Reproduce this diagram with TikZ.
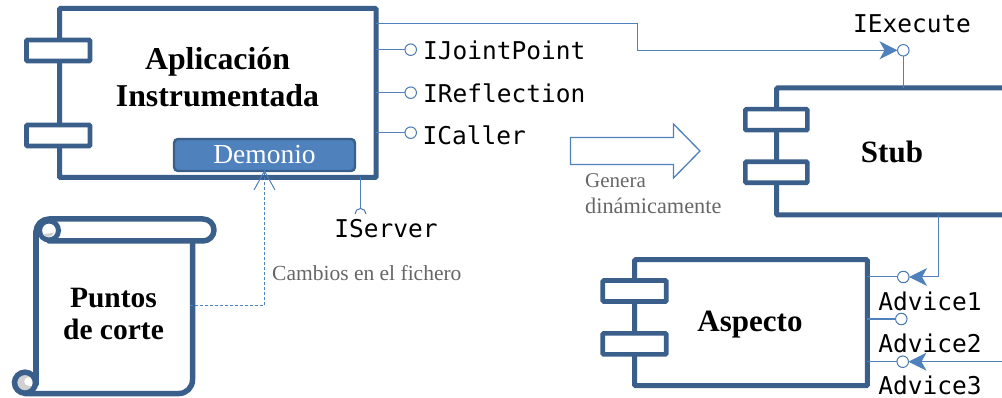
\documentclass[tikz,border=0pt]{standalone}
\usepackage{fontspec}
\setmainfont{Liberation Serif}
\newfontfamily\codefont{DejaVu Sans Mono}
\usetikzlibrary{arrows.meta,calc}
\definecolor{frameblue}{HTML}{3A5F8B}
\definecolor{lineblue}{HTML}{4F81BD}
\definecolor{notegray}{HTML}{666666}
\newcommand{\fsz}[1]{\fontsize{#1}{#1}\selectfont}
\tikzset{
  x=1pt,y=-1pt,
  compbox/.style={draw=frameblue,line width=5pt,fill=white,rounded corners=1pt,inner sep=0,outer sep=0},
  tabbox/.style={draw=frameblue,line width=4.6pt,fill=white,rounded corners=1pt,inner sep=0,outer sep=0,minimum height=21pt,minimum width=63.5pt},
  title/.style={font=\fsz{31}\bfseries,align=center,text=black,inner sep=0},
  code/.style={font=\codefont\fsz{24.5},text=black,inner sep=0},
  note/.style={font=\fsz{21.5},text=notegray,inner sep=0,align=left},
  lolli/.style={circle,draw=lineblue!70!frameblue,fill=white,line width=1pt,minimum size=11.5pt,inner sep=0,outer sep=0},
  conn/.style={draw=lineblue,line width=1pt},
  solidtip/.style={-{Stealth[length=18pt,width=18pt,inset=5pt,fill=lineblue]}},
  scrollline/.style={draw=frameblue,line width=5.5pt,line cap=round,line join=round},
}
\begin{document}
\begin{tikzpicture}
\clip (0,0) rectangle (1002,398);
% Aplicacion instrumentada
\node[compbox,minimum width=316.5pt,minimum height=169pt] (app) at (217.75,93) {};
\node[tabbox] (apptaba) at (58.25,50.5) {};
\node[tabbox] (apptabb) at (58.25,135.5) {};
\node[title,font=\fsz{31.8}\bfseries] (apptext) at (217.5,77) {Aplicación\\[5pt]Instrumentada};
\node[draw=frameblue,line width=2.4pt,fill=lineblue,rounded corners=4pt,minimum width=181pt,minimum height=32pt,inner sep=0,outer sep=0,text=white,font=\fsz{27.5}] (demonio) at (264.5,155) {Demonio};
% Interfaces of app
\node[lolli] (ijp) at (410.7,49.7) {};
\node[lolli] (irf) at (410.7,92.7) {};
\node[lolli] (icl) at (410.7,132.7) {};
\draw[conn] (app.east |- ijp) -- (ijp);
\draw[conn] (app.east |- irf) -- (irf);
\draw[conn] (app.east |- icl) -- (icl);
\node[code,anchor=west] (ijpt) at (423,50) {IJointPoint};
\node[code,anchor=west] (irft) at (423,93) {IReflection};
\node[code,anchor=west] (iclt) at (422.5,135) {ICaller};
% IServer
\coordinate (srv) at (360.5,214);
\draw[conn] (app.south -| srv) -- ($(srv)+(0,-6)$);
\draw[draw=lineblue!70!frameblue,line width=1pt] ($(srv)+(-5.5,0)$) arc[start angle=180,end angle=0,radius=5.5pt];
\node[code] (isrv) at (386,229) {IServer};
% Stub
\node[compbox,minimum width=235.3pt,minimum height=127pt] (stub) at (894.35,151.5) {};
\node[tabbox,minimum width=62pt] (stubtaba) at (776.3,119.7) {};
\node[tabbox,minimum width=62pt] (stubtabb) at (776.3,172.3) {};
\node[title] (stubtext) at (892,152) {Stub};
\node[lolli] (iex) at (903.3,50.3) {};
\draw[conn] (iex) -- (iex |- stub.north);
\node[code] (iext) at (912,24) {IExecute};
\coordinate (appout) at (376,23.5);
\draw[conn,solidtip] (appout) -- (637,23.5) -- (637,50.3) -- (iex);
% Hollow arrow
\node[draw=none,inner sep=0] (hollow) at (635,151) {};
\draw[draw=lineblue,line width=1.3pt,fill=white,line join=miter]
  ($(hollow)+(-64.5,-13.5)$) -- ($(hollow)+(38.5,-13.5)$) -- ($(hollow)+(38.5,-27)$) -- ($(hollow)+(65,0)$) -- ($(hollow)+(38.5,27)$) -- ($(hollow)+(38.5,13.5)$) -- ($(hollow)+(-64.5,13.5)$) -- cycle;
\node[note,anchor=west,font=\fsz{21}] (genera) at (585,181) {Genera};
\node[note,anchor=west,font=\fsz{22.3}] (dina) at (585,206) {dinámicamente};
% Aspecto
\node[compbox,minimum width=232.6pt,minimum height=126pt] (asp) at (751,322.7) {};
\node[tabbox] (asptaba) at (634.5,291) {};
\node[tabbox] (asptabb) at (634.5,343.8) {};
\node[title] (asptext) at (750,325) {Aspecto};
\node[lolli] (ad1) at (903.3,277) {};
\node[lolli] (ad2) at (901.3,319) {};
\node[lolli] (ad3) at (902.7,361.7) {};
\draw[conn] (asp.east |- ad1) -- (ad1);
\draw[conn] (asp.east |- ad2) -- (ad2);
\draw[conn] (asp.east |- ad3) -- (ad3);
\node[code] (ad1t) at (930,301) {Advice1};
\node[code] (ad2t) at (930,343) {Advice2};
\node[code] (ad3t) at (930,385.5) {Advice3};
\coordinate (stubout) at (938.3,215);
\draw[conn,solidtip] (stubout) -- (938.3,277) -- (ad1);
\coordinate (edge3) at (1002,361.7);
\draw[conn,solidtip] (edge3) -- (ad3);
% Puntos de corte (scroll)
\fill[white] (36,230) rectangle (192.5,394);
\node[title,font=\fsz{29.5}\bfseries] (pctext) at (113.5,314) {Puntos\\[3pt]de corte};
% top curl and lower curl fills under the lines
\fill[black!18] (25,382.7) circle[radius=9pt];
\fill[white] (28.5,381.5) circle[radius=4.2pt];
\fill[white] (28.5,377.3) rectangle (36,385.7);
\draw[frameblue,line width=5.5pt] (25,382.7) circle[radius=10.5pt];
% body: right side, bottom, left side
\draw[scrollline] (192.5,241) -- (192.5,380) arc[start angle=0,end angle=-90,radius=13.5pt] -- (25,393.5);
\draw[scrollline] (36,384) -- (36,232);
% top roll
\draw[scrollline] (36,232) arc[start angle=180,end angle=90,radius=13pt] -- (203,219) arc[start angle=90,end angle=-90,radius=11pt] -- (49,241);
% top curl
\draw[frameblue,line width=5pt,fill=white] (49,230.5) circle[radius=9.5pt];
\fill[black!18] (42.5,234.5) .. controls (46,233.5) and (50,233.5) .. (54,232.5) .. controls (53,237) and (47,238.5) .. (42.5,234.5) -- cycle;
% Change notification
\coordinate (pcout) at (190,306);
\draw[draw=lineblue,line width=1pt,dash pattern=on 3pt off 2pt] (pcout) -- (264.5,306) -- (demonio.south);
\draw[draw=lineblue,line width=1pt] (254,190) -- (demonio.south) -- (275,190);
\node[note,anchor=west] (cambios) at (272,273) {Cambios en el fichero};
\end{tikzpicture}
\end{document}
